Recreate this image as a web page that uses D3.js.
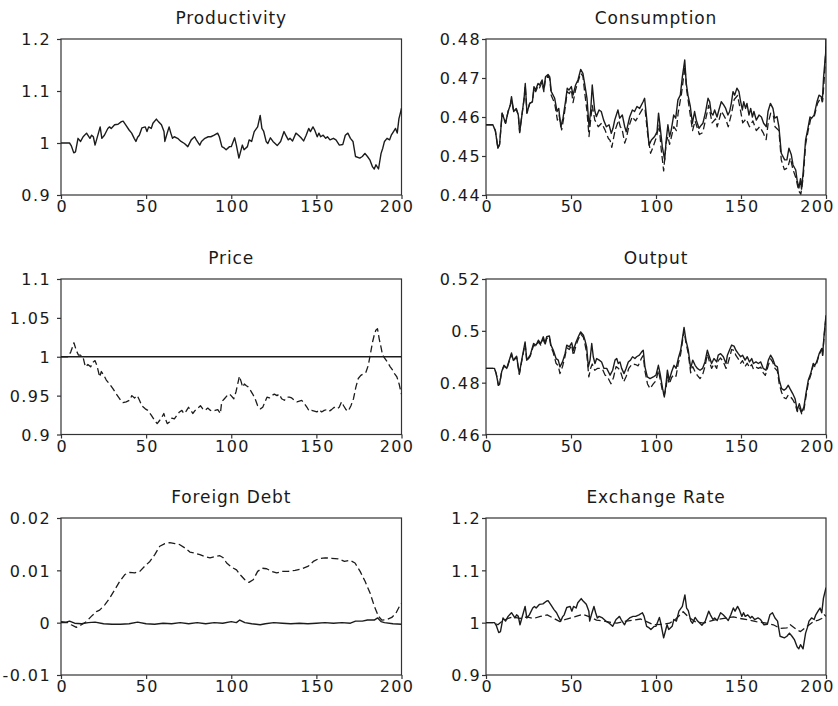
<!DOCTYPE html>
<html>
<head>
<meta charset="utf-8">
<script src="https://cdn.jsdelivr.net/npm/d3@7"></script>
<style>
  html, body { margin: 0; padding: 0; background: #fff; }
  svg { display: block; }
  .title { font-family: "DejaVu Sans", sans-serif; font-size: 17px; letter-spacing: 0.9px; fill: #1a1a1a; }
  .tick text { font-family: "DejaVu Sans", sans-serif; font-size: 16px; letter-spacing: 1.4px; fill: #1a1a1a; }
</style>
</head>
<body>
<svg id="chart" width="838" height="706"></svg>
<script>
// Simulated paths over 200 periods: [period, value]
const periodTicks = [0, 50, 100, 150, 200];

const productivity = [[0,1.000],[5,1.000],[6,0.995],[7.5,0.981],[8.5,0.983],[10,1.009],[11.5,1.003],[13,1.012],[15,1.019],[17,1.009],[18,1.015],[19,1.012],[20,0.996],[23,1.031],[24,1.009],[25.5,1.015],[27.5,1.028],[28.5,1.031],[29.5,1.028],[31.5,1.035],[33.5,1.036],[35.5,1.041],[36.5,1.042],[38,1.035],[40,1.025],[41.5,1.019],[43,1.009],[44,1.003],[45,1.011],[46,1.015],[47.5,1.029],[49.5,1.031],[50.5,1.022],[51.5,1.031],[53,1.028],[54,1.038],[56,1.046],[57,1.042],[59,1.035],[60.5,1.022],[61,1.003],[62,1.015],[63.5,1.031],[64.5,1.019],[65.5,1.009],[66.5,1.012],[68.5,1.009],[70.5,1.003],[72.5,0.999],[74.5,0.993],[76.5,1.006],[77.5,1.009],[78.5,1.012],[79.5,1.006],[81.5,0.996],[82.5,1.003],[84.5,1.009],[86.5,1.012],[88,1.012],[90,1.015],[92,1.019],[93,1.012],[94.5,0.993],[96,0.990],[97,0.987],[99,0.993],[100,0.993],[102,1.010],[103,0.996],[104.5,0.971],[106.5,0.996],[107.5,0.987],[109.5,0.993],[110.5,1.006],[112,1.003],[113.5,1.022],[115.5,1.031],[117,1.053],[118,1.028],[119,1.023],[120.5,1.003],[121.5,0.999],[123,1.010],[124.5,1.003],[127,0.995],[129,1.003],[131,1.022],[132,1.015],[133.5,1.006],[134.5,1.009],[136,1.004],[138,1.019],[139.5,1.015],[141,1.010],[142.5,1.004],[144,1.015],[145.5,1.028],[146.5,1.022],[148,1.031],[149,1.025],[150.5,1.012],[151.5,1.019],[152.5,1.012],[154,1.015],[155.5,1.009],[156.5,1.012],[158,1.006],[160,1.009],[161.5,1.006],[163.5,0.996],[165.5,0.997],[167,1.015],[168.5,1.019],[170,1.009],[171.5,1.003],[173,0.974],[175.5,0.971],[177,0.974],[178.5,0.980],[180,0.974],[181.5,0.967],[183,0.954],[184,0.950],[185,0.958],[186.5,0.950],[188,0.980],[189,0.990],[190,1.003],[191.5,1.009],[193,1.006],[194,1.015],[195.5,1.023],[196.5,1.028],[197.5,1.019],[198.5,1.047],[199.5,1.060],[200,1.067]];

const consumptionA = [[0,0.458],[4,0.458],[5.5,0.4565],[7,0.452],[8,0.453],[9.5,0.461],[11.5,0.4584],[13,0.4614],[14.3,0.4631],[15,0.4652],[16.3,0.4614],[17.8,0.4622],[19,0.4605],[19.8,0.456],[21.4,0.4614],[22.4,0.4648],[23.1,0.4686],[24.1,0.461],[25.7,0.4635],[27.3,0.4639],[28.2,0.4678],[29.2,0.4669],[30.6,0.4686],[31.5,0.4682],[33,0.4695],[34,0.4669],[35,0.4703],[36.5,0.4709],[37.5,0.4703],[38.4,0.4665],[40.4,0.4648],[41.8,0.4614],[42.8,0.4622],[44,0.4575],[45.3,0.4597],[46.9,0.4644],[47.8,0.4674],[48.8,0.4669],[50.2,0.4678],[51.2,0.4656],[52.7,0.4682],[54.1,0.4695],[55.7,0.4722],[57,0.4712],[58,0.4686],[59.4,0.4648],[60.6,0.4575],[61.6,0.4618],[62.5,0.4682],[63.9,0.4618],[64.9,0.4601],[66.5,0.4618],[67.8,0.4614],[69.2,0.4592],[70.8,0.4575],[72.4,0.458],[73.7,0.4558],[74.7,0.4571],[75.7,0.4592],[77.6,0.4618],[78.6,0.4597],[80.2,0.4605],[81.6,0.4575],[82.5,0.4562],[84.5,0.46],[86.1,0.4618],[87.4,0.4614],[88.8,0.4627],[90.4,0.4622],[92.4,0.4639],[93.3,0.4648],[94.7,0.4588],[95.9,0.4528],[97.3,0.4541],[99.2,0.455],[100.6,0.4562],[101.5,0.461],[102.2,0.4584],[103.7,0.4524],[105.1,0.449],[106,0.4541],[107,0.458],[108,0.455],[109,0.4567],[110.4,0.4605],[111.6,0.4597],[112.9,0.4644],[114.3,0.4656],[115.5,0.4703],[116.9,0.4746],[117.8,0.4686],[118.8,0.4656],[120.2,0.4627],[121.4,0.4584],[122.7,0.4614],[123.7,0.4592],[125.3,0.4571],[126.6,0.4579],[127.6,0.4584],[129.2,0.4614],[130.6,0.4648],[131.6,0.4639],[132.5,0.461],[133.5,0.4605],[134.5,0.4618],[135.9,0.46],[137,0.4618],[138.4,0.4639],[139.8,0.4631],[141,0.4622],[142.3,0.4605],[143.3,0.4614],[144.3,0.4635],[145.3,0.4665],[146.3,0.4656],[147.6,0.4674],[148.8,0.4665],[149.6,0.4644],[150.8,0.4618],[151.6,0.4639],[152.7,0.4622],[153.5,0.4635],[154.7,0.4605],[155.7,0.4622],[156.7,0.46],[157.6,0.4614],[159,0.4592],[160.6,0.4605],[162,0.46],[163.3,0.4584],[164.9,0.4575],[165.9,0.4614],[167.3,0.4635],[168.8,0.4622],[169.8,0.4597],[171.2,0.4601],[172.3,0.4575],[173.7,0.4507],[175.7,0.449],[177,0.449],[178.2,0.452],[179.6,0.4503],[180.6,0.4477],[182.2,0.4464],[183,0.4438],[184.1,0.4418],[185,0.4442],[185.6,0.4415],[186.6,0.446],[188,0.4541],[189.2,0.4567],[190.6,0.46],[191.6,0.4597],[193,0.4605],[194.7,0.4639],[195.9,0.4656],[197.2,0.4652],[197.8,0.4639],[198.6,0.4703],[199.8,0.4763],[200,0.48]];

const consumptionB = [[0,0.458],[4,0.458],[5.5,0.4565],[7,0.452],[8,0.453],[9.5,0.461],[11.5,0.4584],[13,0.4614],[14.3,0.4631],[15,0.4645],[16.3,0.4614],[17.8,0.462],[19,0.4605],[19.8,0.4562],[21.4,0.4614],[22.4,0.4645],[23.1,0.468],[24.1,0.461],[25.7,0.4635],[27.3,0.4639],[28.2,0.4672],[29.2,0.4665],[30.6,0.468],[31.5,0.4675],[33,0.469],[34,0.4665],[35,0.4698],[36.5,0.4705],[37.5,0.4698],[38.4,0.4655],[40.4,0.4635],[42,0.4592],[43,0.4605],[44.5,0.4567],[46,0.4605],[47.8,0.4665],[49,0.466],[50.2,0.467],[51.2,0.4637],[52.7,0.467],[54.1,0.469],[55.7,0.4712],[57,0.4705],[58,0.4665],[59.4,0.4615],[60.6,0.455],[61.6,0.4595],[62.5,0.463],[64,0.4592],[65,0.4585],[66,0.4575],[68,0.4584],[70,0.4567],[72,0.4545],[73,0.454],[74,0.4522],[75,0.4545],[76,0.4567],[78,0.4592],[79,0.4575],[80,0.457],[81.6,0.4533],[82.5,0.4545],[84,0.4575],[86,0.4601],[87,0.4595],[88,0.459],[90,0.4605],[92,0.462],[93.5,0.4622],[95,0.456],[96.8,0.4507],[98,0.452],[100,0.4545],[101.8,0.458],[103,0.452],[104.5,0.4462],[106,0.4535],[107,0.455],[108,0.453],[110.5,0.4575],[112,0.4565],[113,0.461],[115,0.466],[117,0.473],[118,0.467],[120,0.461],[121.5,0.4565],[123,0.459],[125.5,0.4555],[127.5,0.456],[129,0.459],[131,0.463],[133,0.4585],[135,0.4595],[136,0.4575],[138.5,0.4615],[141,0.4595],[142.5,0.4575],[144.5,0.461],[146,0.4645],[148,0.4655],[150,0.461],[151,0.4585],[153,0.4595],[155,0.4575],[157,0.459],[159,0.4565],[161,0.4575],[163,0.456],[164.8,0.4542],[166,0.4585],[167.5,0.461],[169,0.4605],[170,0.4575],[172.3,0.4565],[173.7,0.449],[175.5,0.4465],[177.5,0.447],[179,0.4495],[180.6,0.4465],[182.2,0.4445],[184,0.441],[185.2,0.4402],[186.6,0.4445],[188,0.453],[189.5,0.4565],[191,0.4595],[193,0.46],[195,0.4635],[197,0.465],[198,0.464],[199,0.47],[200,0.478]];

const priceA = [[0,1.0],[200,1.0]];

const priceB = [[0,1.0],[4,1.0],[5.7,1.006],[7.6,1.018],[9,1.008],[10.3,1.002],[11.5,1.002],[12.9,1.0],[14.3,0.987],[15.8,0.99],[17.4,0.987],[18.8,0.993],[20,0.995],[21.2,0.988],[22.7,0.974],[23.7,0.981],[25.2,0.976],[26.6,0.97],[28.5,0.965],[30.5,0.959],[32.5,0.952],[34.4,0.946],[36.4,0.941],[38.3,0.942],[40.3,0.944],[41.6,0.95],[43.2,0.947],[44.8,0.95],[46.1,0.944],[47.5,0.937],[49.5,0.933],[51,0.931],[53,0.925],[55,0.918],[56.5,0.914],[57.9,0.918],[59.2,0.922],[60.4,0.927],[61.2,0.921],[62.4,0.914],[63.7,0.916],[65.1,0.921],[66.6,0.92],[68.2,0.925],[69.6,0.929],[71,0.931],[72.1,0.927],[73.5,0.93],[74.9,0.935],[76,0.932],[77.4,0.927],[78.8,0.931],[80.4,0.934],[81.9,0.937],[83.3,0.933],[84.7,0.931],[86.2,0.934],[87.8,0.931],[89.1,0.93],[90.5,0.931],[92.1,0.932],[93.6,0.927],[94.4,0.942],[96,0.946],[97.6,0.95],[98.9,0.952],[99.9,0.95],[101.5,0.946],[102.8,0.955],[103.8,0.965],[104.8,0.975],[105.8,0.968],[106.7,0.961],[107.7,0.965],[108.7,0.963],[110,0.961],[111.2,0.957],[112.6,0.952],[114,0.946],[115.5,0.937],[117.1,0.933],[118.5,0.935],[119.8,0.942],[121,0.948],[122.4,0.947],[123.8,0.95],[125.3,0.952],[126.9,0.95],[128.2,0.952],[129.6,0.946],[131.2,0.944],[132.7,0.948],[134.1,0.948],[135.5,0.947],[137,0.944],[138.6,0.942],[140,0.943],[141.4,0.944],[142.9,0.94],[144.5,0.935],[145.8,0.93],[147.2,0.931],[148.8,0.93],[150.3,0.929],[151.7,0.932],[153.1,0.929],[154.6,0.931],[156.1,0.932],[157.6,0.93],[158.9,0.932],[160.5,0.935],[162.1,0.933],[163.4,0.935],[164.8,0.942],[166,0.937],[167.4,0.932],[168.7,0.93],[170.3,0.937],[171.8,0.946],[173.2,0.961],[174.6,0.972],[176.1,0.976],[177.7,0.978],[179.1,0.98],[180.5,0.989],[181.6,1.002],[183,1.019],[184,1.028],[184.9,1.034],[185.9,1.036],[186.9,1.023],[187.9,1.013],[188.9,1.002],[190.2,0.998],[191.8,0.993],[193.4,0.987],[194.7,0.983],[196,0.978],[197.3,0.974],[198.6,0.965],[199.6,0.955],[200,0.952]];

const outputA = [[0,0.4855],[5,0.4855],[6,0.4835],[7.3,0.479],[8,0.4795],[9.2,0.4842],[10.6,0.4867],[12.2,0.4855],[14,0.4893],[15,0.4915],[16,0.4887],[18,0.4902],[19.6,0.4835],[21,0.4887],[23,0.4957],[24,0.4887],[26,0.4906],[28,0.4951],[29.5,0.4945],[30.8,0.4964],[32.2,0.4951],[33.7,0.4977],[34.7,0.4951],[35.7,0.4977],[37.3,0.498],[38.2,0.4945],[39.6,0.4925],[41.2,0.4893],[42.5,0.4887],[43.5,0.4861],[45,0.488],[46.5,0.4912],[47.5,0.4945],[49,0.4938],[50.4,0.4954],[51.4,0.4925],[53,0.4957],[54.3,0.4977],[55.7,0.4996],[57.3,0.4983],[58.2,0.4964],[59.2,0.4938],[60.2,0.4861],[61.2,0.4887],[62.2,0.4951],[63.1,0.49],[64.1,0.4874],[65.1,0.4893],[66.6,0.4887],[68,0.488],[69.4,0.4855],[71,0.4855],[72,0.4842],[73,0.4829],[74.5,0.4848],[75.9,0.4887],[76.9,0.4893],[77.8,0.4874],[78.8,0.488],[79.8,0.4855],[81.2,0.4835],[82.4,0.4855],[83.7,0.488],[85,0.4887],[86.2,0.49],[87.6,0.4893],[88.6,0.49],[90.2,0.4906],[91.6,0.4919],[92.5,0.4925],[93.5,0.4861],[94.9,0.4822],[96.5,0.4816],[98.4,0.4822],[100,0.4829],[101.4,0.4867],[102.4,0.4835],[103.9,0.4777],[104.9,0.4745],[105.9,0.4796],[106.7,0.4848],[107.8,0.481],[109.2,0.4842],[110.6,0.4867],[111.8,0.4855],[113.1,0.4893],[114.5,0.4925],[115.7,0.4977],[116.5,0.5013],[117.6,0.4964],[119,0.4925],[120.4,0.4855],[121.6,0.4887],[123,0.4867],[124.3,0.4855],[125.9,0.4848],[127.4,0.4855],[128.8,0.488],[130.2,0.4925],[131.4,0.49],[132.7,0.4874],[134.1,0.4893],[135.7,0.488],[136.6,0.4906],[138,0.4912],[139.6,0.49],[141.2,0.4874],[142,0.4906],[143.2,0.4925],[144.5,0.4945],[145.9,0.4941],[147,0.4925],[148.4,0.4912],[149.8,0.49],[150.9,0.4906],[152.4,0.4887],[153.7,0.49],[155,0.488],[156.3,0.4893],[157.3,0.4874],[158.8,0.488],[160.2,0.4874],[161.6,0.488],[163.1,0.4855],[164.7,0.4848],[166.1,0.4887],[167.4,0.4906],[168.6,0.4893],[170,0.4867],[171.4,0.4861],[172.5,0.481],[173.9,0.4777],[175.3,0.4771],[176.5,0.4777],[177.8,0.479],[178.8,0.4777],[180.4,0.4758],[181.8,0.4738],[183.1,0.4693],[184.3,0.4719],[185.7,0.4687],[187,0.4706],[188.2,0.4758],[189.6,0.481],[191,0.4835],[192.5,0.4874],[193.5,0.4867],[194.5,0.488],[196,0.4912],[197.5,0.4932],[198,0.4906],[198.8,0.4977],[200,0.506]];

const outputB = [[0,0.4855],[5,0.4855],[6,0.4835],[7.3,0.479],[8,0.4795],[9.2,0.4842],[10.6,0.4865],[12.2,0.4852],[14,0.489],[15,0.491],[16,0.4884],[18,0.4898],[19.6,0.4832],[21,0.4882],[23,0.495],[24,0.4882],[26,0.4902],[28,0.4945],[29.5,0.494],[30.8,0.4958],[32.2,0.4945],[33.7,0.497],[34.7,0.4945],[35.7,0.497],[37.3,0.4975],[38.2,0.4938],[39.6,0.4915],[41.2,0.4875],[42.5,0.4865],[43.5,0.4835],[45,0.4862],[46.5,0.4902],[47.5,0.4935],[49,0.4928],[50.4,0.4945],[51.4,0.4905],[53,0.4945],[54.3,0.4968],[55.7,0.4988],[57.3,0.4975],[58.2,0.495],[59.2,0.4915],[60.5,0.4822],[61.5,0.4855],[62.5,0.4872],[64,0.4848],[65.5,0.4855],[67,0.4855],[68.5,0.4852],[70,0.483],[71.5,0.4822],[73.5,0.4796],[75,0.482],[76.5,0.4862],[78,0.4855],[79.5,0.4835],[81,0.4803],[82.5,0.4825],[84,0.4855],[86,0.4872],[88,0.487],[89.5,0.4865],[91.5,0.4895],[92.5,0.4905],[93.5,0.4845],[95,0.4795],[96.5,0.4777],[98.4,0.4795],[100,0.4808],[101.4,0.4848],[102.4,0.4815],[103.9,0.4765],[104.9,0.4752],[105.9,0.478],[106.7,0.4825],[107.8,0.4795],[109.2,0.482],[110.6,0.4832],[111.8,0.4825],[113.1,0.4875],[114.5,0.491],[115.7,0.4965],[116.5,0.5],[117.6,0.4955],[119,0.4912],[120.4,0.4838],[121.6,0.4862],[123,0.4842],[124.3,0.4828],[125.9,0.4816],[127.4,0.483],[128.8,0.4862],[130.2,0.491],[131.4,0.4882],[132.7,0.4855],[134.1,0.4872],[135.7,0.4855],[136.6,0.4885],[138,0.4895],[139.6,0.488],[141.2,0.4855],[142.3,0.4875],[143.2,0.4895],[144.5,0.4928],[145.9,0.4925],[147,0.4905],[148.4,0.4892],[149.8,0.4875],[150.9,0.4885],[152.4,0.4862],[153.7,0.4875],[155,0.4858],[156.3,0.487],[157.3,0.4852],[158.8,0.486],[160.2,0.4855],[161.6,0.486],[163.1,0.4838],[164.3,0.4828],[166.1,0.4868],[167.4,0.4892],[168.6,0.488],[170,0.4855],[171.4,0.4845],[172.5,0.4795],[173.9,0.4762],[175.3,0.4742],[176.5,0.4738],[177.8,0.4752],[178.8,0.4748],[180.4,0.4735],[181.8,0.4718],[183.1,0.4688],[184.3,0.4705],[185.7,0.468],[187,0.4695],[188.2,0.4745],[189.6,0.48],[191,0.4828],[192.5,0.4868],[193.5,0.4862],[194.5,0.4875],[196,0.4908],[197.5,0.493],[198,0.4905],[198.8,0.4972],[200,0.5055]];

const debtA = [[0,0.0002],[3,0.0001],[5,0.0003],[8,-0.0001],[12,-0.0002],[16,0.0],[20,0.0001],[25,-0.0002],[30,-0.0003],[35,-0.0003],[40,-0.0002],[45,0.0001],[50,-0.0002],[55,-0.0003],[60,-0.0001],[65,-0.0002],[70,0.0],[75,-0.0002],[80,0.0],[85,-0.0002],[90,0.0],[95,-0.0001],[100,0.0002],[103,0.0],[105,0.0005],[108,0.0],[112,-0.0002],[117,-0.0004],[120,-0.0002],[125,0.0],[130,-0.0001],[135,-0.0002],[140,-0.0001],[145,-0.0002],[150,-0.0001],[155,0.0],[160,-0.0001],[165,0.0],[170,-0.0001],[173,0.0003],[177,0.0003],[180,0.0005],[184,0.0005],[186,0.0009],[188,0.0002],[190,0.0],[195,-0.0002],[200,-0.0003]];

const debtB = [[0,0.0],[4,0.0],[6,-0.0004],[9,-0.0009],[12,-0.0004],[14.9,0.0002],[17.8,0.0012],[20.8,0.0021],[22.7,0.0024],[25.7,0.0034],[28.6,0.0047],[31.6,0.0063],[34.5,0.0079],[37.5,0.0092],[40.4,0.0096],[43.3,0.0095],[46.3,0.0098],[49.2,0.0108],[52.2,0.0117],[55.1,0.013],[58,0.0146],[61,0.0151],[63.9,0.0153],[66.9,0.0151],[69.8,0.0149],[72.7,0.0143],[75.7,0.0135],[78.6,0.0133],[81.6,0.013],[84.5,0.0126],[87.5,0.0124],[90.4,0.0126],[93.3,0.0128],[95.3,0.0124],[97.3,0.0114],[100.2,0.0106],[103.1,0.0101],[105.1,0.0092],[108,0.0082],[110.4,0.0077],[112.9,0.0082],[115.5,0.0098],[118.2,0.0104],[120.8,0.0103],[123.7,0.0098],[126.7,0.0095],[129.6,0.0098],[133.5,0.0098],[137.5,0.01],[141.4,0.0103],[145.3,0.0108],[148.2,0.0117],[151.2,0.0122],[155.1,0.0124],[159,0.0123],[162.9,0.0122],[166.5,0.0117],[169.8,0.0119],[172.7,0.0114],[175.7,0.0098],[178.6,0.0079],[181.6,0.0056],[184.1,0.0031],[186.5,0.0012],[188.4,0.0005],[191.4,0.0006],[194.3,0.001],[196.7,0.0018],[198.6,0.003],[200,0.0037]];

const exchangeA = productivity;

const exchangeB = [[0,1.000],[5,1.000],[7,0.996],[10,1.004],[13,1.008],[16,1.011],[20,1.008],[24,1.011],[28,1.008],[32,1.012],[36,1.015],[40,1.008],[43.5,1.002],[47.5,1.007],[52,1.011],[57,1.016],[61,1.011],[65,1.005],[71,1.002],[77,0.999],[81,1.002],[87,1.005],[91,1.007],[94.5,1.002],[98.5,0.996],[104,0.997],[108,0.999],[112,1.008],[116,1.021],[119,1.011],[123,1.002],[128,0.999],[134,1.005],[140,1.008],[145.5,1.011],[149.5,1.008],[155,1.005],[159,1.002],[165,0.999],[169,0.996],[173,0.989],[177,0.990],[179,0.996],[183,0.986],[185,0.983],[188.5,0.992],[192.5,1.002],[195.5,1.005],[197.5,1.008],[199,1.015],[200,1.012]];

// Panel specs: title, y-domain, y-ticks and their labels, series
const panels = [
  { title: "Productivity", domain: [0.9, 1.2], ticks: [0.9, 1.0, 1.1, 1.2], labels: ["0.9", "1", "1.1", "1.2"], solid: productivity, dashed: null },
  { title: "Consumption", domain: [0.44, 0.48], ticks: [0.44, 0.45, 0.46, 0.47, 0.48], labels: ["0.44", "0.45", "0.46", "0.47", "0.48"], solid: consumptionA, dashed: consumptionB },
  { title: "Price", domain: [0.9, 1.1], ticks: [0.9, 0.95, 1.0, 1.05, 1.1], labels: ["0.9", "0.95", "1", "1.05", "1.1"], solid: priceA, dashed: priceB },
  { title: "Output", domain: [0.46, 0.52], ticks: [0.46, 0.48, 0.5, 0.52], labels: ["0.46", "0.48", "0.5", "0.52"], solid: outputA, dashed: outputB },
  { title: "Foreign Debt", domain: [-0.01, 0.02], ticks: [-0.01, 0, 0.01, 0.02], labels: ["-0.01", "0", "0.01", "0.02"], solid: debtA, dashed: debtB },
  { title: "Exchange Rate", domain: [0.9, 1.2], ticks: [0.9, 1.0, 1.1, 1.2], labels: ["0.9", "1", "1.1", "1.2"], solid: exchangeA, dashed: exchangeB }
];

// Layout of the 3x2 grid (plot-area boxes)
const colX = [[61, 401.5], [486, 826]];
const rowY = [[39, 195], [279, 434.5], [518, 675]];
const labelGap = [6, 1];
const lastLabelShift = [-5, -9];

const svg = d3.select("#chart");
const ink = "#1c1c1c";

panels.forEach((p, i) => {
  const col = i % 2, row = Math.floor(i / 2);
  const [x0, x1] = colX[col];
  const [y0, y1] = rowY[row];

  const x = d3.scaleLinear().domain([0, 200]).range([x0, x1]);
  const y = d3.scaleLinear().domain(p.domain).range([y1, y0]);

  const g = svg.append("g");
  const clipId = "clip" + i;
  g.append("clipPath").attr("id", clipId)
    .append("rect").attr("x", x0).attr("y", y0 - 2).attr("width", x1 - x0).attr("height", y1 - y0 + 4);

  // plot frame
  g.append("rect")
    .attr("x", x0).attr("y", y0).attr("width", x1 - x0).attr("height", y1 - y0)
    .attr("fill", "none").attr("stroke", "#333").attr("stroke-width", 1.2);

  // x axis
  const xa = g.append("g").attr("class", "x-axis").attr("transform", `translate(0,${y1})`)
    .call(d3.axisBottom(x).tickValues(periodTicks).tickSize(4).tickPadding(2).tickFormat(d3.format("d")));
  xa.select(".domain").remove();
  xa.selectAll(".tick line").attr("stroke", "#333").attr("stroke-width", 1.2);
  // keep the last period label inside the page edge
  xa.selectAll(".tick text").attr("dx", d => d === 200 ? lastLabelShift[col] : 0.7);

  // y axis
  const ya = g.append("g").attr("class", "y-axis").attr("transform", `translate(${x0},0)`)
    .call(d3.axisLeft(y).tickValues(p.ticks).tickSize(4).tickPadding(labelGap[col])
      .tickFormat((d, k) => p.labels[k]));
  ya.select(".domain").remove();
  ya.selectAll(".tick line").attr("stroke", "#333").attr("stroke-width", 1.2);
  ya.selectAll(".tick text").attr("dy", "0.36em");

  // title
  g.append("text").attr("class", "title")
    .attr("x", (x0 + x1) / 2).attr("y", y0 - 15)
    .attr("text-anchor", "middle").text(p.title);

  const line = d3.line().x(d => x(d[0])).y(d => y(d[1]));
  const plot = g.append("g").attr("clip-path", `url(#${clipId})`);
  if (p.dashed) {
    plot.append("path").datum(p.dashed).attr("d", line)
      .attr("fill", "none").attr("stroke", ink).attr("stroke-width", 1.3)
      .attr("stroke-dasharray", "7,3.5").attr("stroke-linejoin", "round");
  }
  plot.append("path").datum(p.solid).attr("d", line)
    .attr("fill", "none").attr("stroke", ink).attr("stroke-width", 1.4)
    .attr("stroke-linejoin", "round");
});
</script>
</body>
</html>
